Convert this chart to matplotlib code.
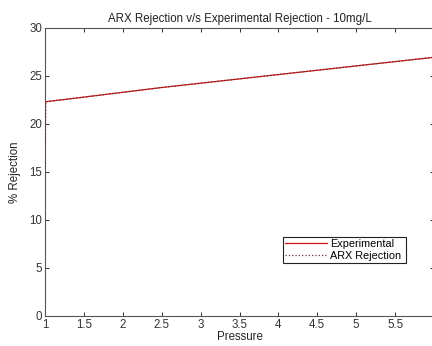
import matplotlib
matplotlib.use("Agg")
import matplotlib.pyplot as plt

# values
pressure = [1.0, 1.01, 1.5, 2.0, 2.5, 3.0, 3.5, 4.0, 4.5, 5.0, 5.5, 6.0]
experimental = [22.3, 22.32, 22.8, 23.3, 23.8, 24.25, 24.7, 25.15, 25.6, 26.05, 26.5, 26.95]
arx = [15.5, 22.32, 22.8, 23.3, 23.8, 24.25, 24.7, 25.15, 25.6, 26.05, 26.5, 26.95]
xticks = [1, 1.5, 2, 2.5, 3, 3.5, 4, 4.5, 5, 5.5, 6]
# the "6" label falls outside the cropped picture in the reference
xticklabels = ['1', '1.5', '2', '2.5', '3', '3.5', '4', '4.5', '5', '5.5', '']
yticks = [0, 5, 10, 15, 20, 25, 30]

plt.rcParams['font.family'] = ['Liberation Sans', 'DejaVu Sans']
fig = plt.figure(figsize=(4.32, 3.46), dpi=100)
ax = fig.add_axes([45/432, 30/346, 389/432, 288/346])

ax.plot(pressure, experimental, color='#d01515', lw=0.9, label='Experimental', zorder=3)
ax.plot(pressure, arx, color='#6a3030', lw=0.9, ls=':', label='ARX Rejection', zorder=3)

ax.set_xlim(1, 6)
ax.set_ylim(0, 30)
ax.set_xticks(xticks)
ax.set_xticklabels(xticklabels)
ax.set_yticks(yticks)
ax.tick_params(direction='in', top=True, right=True, length=3, width=0.7,
               labelsize=8.3, colors='#333333', pad=2)
for s in ax.spines.values():
    s.set_color('#555555')
    s.set_linewidth(0.8)

ax.set_title('ARX Rejection v/s Experimental Rejection - 10mg/L', fontsize=8.3, pad=4, color='#222222')
ax.set_xlabel('Pressure', fontsize=8.3, labelpad=0, color='#222222')
ax.set_ylabel('% Rejection', fontsize=8.3, labelpad=6, color='#222222')

leg = ax.legend(loc='lower right', bbox_to_anchor=(283/432, 83/346, 123/432, 28/346),
                bbox_transform=fig.transFigure, mode='expand', fontsize=7.8, fancybox=False,
                framealpha=1, edgecolor='#222222', borderpad=0.2, labelspacing=0.2,
                handlelength=3.9, handletextpad=0.25, borderaxespad=0)
leg.get_frame().set_linewidth(0.8)

fig.savefig('out.png', dpi=100)
